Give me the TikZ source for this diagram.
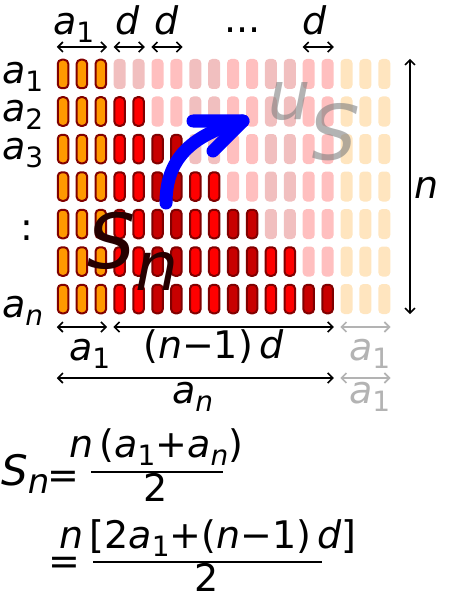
\documentclass[tikz,border=0pt]{standalone}
\usepackage{fontspec}
\setmainfont{DejaVu Sans}
\usepackage{tikz}
\usetikzlibrary{calc, positioning, arrows.meta}
\definecolor{barorange}{RGB}{255,153,0}
\definecolor{barred}{RGB}{255,0,0}
\definecolor{bardark}{RGB}{200,0,0}
\definecolor{barline}{RGB}{128,0,0}
\definecolor{sndark}{RGB}{38,0,0}
\definecolor{dimgrey}{RGB}{179,179,179}
\newcommand{\symsub}[2]{\textit{#1}\raisebox{-8pt}{\fontsize{28}{28}\selectfont #2}}

\begin{document}
\begin{tikzpicture}[
  x=1pt, y=-1pt,
  bar/.style={draw=barline, line width=2pt, rounded corners=4pt, minimum width=10.5pt, minimum height=28.5pt, inner sep=0pt},
  ghost/.style={draw=none, fill opacity=0.25, rounded corners=4pt, minimum width=12pt, minimum height=30pt, inner sep=0pt},
  dim/.style={line width=1.6pt, {Straight Barb[length=5pt,width=10pt]}-{Straight Barb[length=5pt,width=10pt]}},
  lbl/.style={anchor=base west, inner sep=0pt, font=\fontsize{38}{40}\selectfont},
  flow/.style={draw=blue, line width=13pt, line cap=round, line join=round},
  fracline/.style={line width=2pt}
]
\useasboundingbox (0,0) rectangle (449,599);

% bars: lit part is S_n, the faded part is its copy turned round
\foreach \r in {0,...,6}{
  \foreach \c in {0,...,17}{
    \pgfmathtruncatemacro{\lit}{\c<3+2*\r}
    \pgfmathtruncatemacro{\m}{\lit==1 ? \c : 17-\c}
    \pgfmathtruncatemacro{\k}{\m<3 ? 2 : mod(int((\m-3)/2),2)}
    \ifcase\k \def\barcol{barred}\or \def\barcol{bardark}\or \def\barcol{barorange}\fi
    \ifnum\lit=1
      \node[bar, fill=\barcol] (b\r-\c) at ({63+18.9*\c},{74+37.5*\r}) {};
    \else
      \node[ghost, fill=\barcol] (b\r-\c) at ({63+18.9*\c},{74+37.5*\r}) {};
    \fi
  }
}

% big labels
\node[lbl, font=\fontsize{76}{76}\selectfont, text=sndark] (sn) at (87,268) {\textit{S}\raisebox{-22pt}{\fontsize{68}{68}\selectfont\textit{n}}};
\node[lbl, font=\fontsize{76}{76}\selectfont, text=gray, text opacity=0.6, rotate=180] (snrot) at (359,105) {\textit{S}\raisebox{-22pt}{\fontsize{68}{68}\selectfont\textit{n}}};

% blue arrow
\coordinate (arrS) at (166,203);
\coordinate (arrT) at (243,121);
\coordinate (armU) at (193,121);
\coordinate (armL) at (213,151);
\draw[flow] (arrS) .. controls (166,160) and (190,135) .. (arrT);
\draw[flow] (armU) -- (arrT) -- (armL);

% dimensions
\coordinate (dimtop) at (0,47);
\coordinate (dimlow) at (0,327);
\coordinate (dimlow2) at (0,378);
\coordinate (nx) at (410,0);
\draw[dim] (b0-0.west |- dimtop) -- (b0-2.east |- dimtop);
\draw[dim] (b0-3.west |- dimtop) -- (b0-4.east |- dimtop);
\draw[dim] (b0-5.west |- dimtop) -- (b0-6.east |- dimtop);
\draw[dim] (b0-13.west |- dimtop) -- (b0-14.east |- dimtop);
\draw[dim] (b0-17.north -| nx) -- (b6-17.south -| nx);
\draw[dim] (b6-0.west |- dimlow) -- (b6-2.east |- dimlow);
\draw[dim] (b6-3.west |- dimlow) -- (b6-14.east |- dimlow);
\draw[dim, dimgrey] (b6-15.west |- dimlow) -- (b6-17.east |- dimlow);
\draw[dim] (b6-0.west |- dimlow2) -- (b6-14.east |- dimlow2);
\draw[dim, dimgrey] (b6-15.west |- dimlow2) -- (b6-17.east |- dimlow2);

\node[lbl] (ta1) at (53,35) {\symsub{a}{1}};
\node[lbl] (td1) at (115,35) {\textit{d}};
\node[lbl] (td2) at (154,35) {\textit{d}};
\node[lbl] (tdots) at (224,33) {...};
\node[lbl] (td3) at (302,35) {\textit{d}};

\node[lbl] (la1) at (2,84) {\symsub{a}{1}};
\node[lbl] (la2) at (2,121.5) {\symsub{a}{2}};
\node[lbl] (la3) at (2,159) {\symsub{a}{3}};
\node[lbl] (lvd) at (20,240) {:};
\node[lbl] (lan) at (2,317) {\symsub{a}{\textit{n}}};
\node[lbl] (rn) at (414,198) {\textit{n}};

\node[lbl] (ba1) at (69,360) {\symsub{a}{1}};
\node[lbl] (bnd) at (143,358) {(\textit{n}−1)\,\textit{d}};
\node[lbl, text=dimgrey] (bga1) at (349,360) {\symsub{a}{1}};
\node[lbl] (ban) at (172,403) {\symsub{a}{\textit{n}}};
\node[lbl, text=dimgrey] (bga2) at (349,403) {\symsub{a}{1}};

% sum formula
\node[lbl, font=\fontsize{42}{42}\selectfont] (fs) at (1,485) {\textit{S}\raisebox{-8pt}{\fontsize{34}{34}\selectfont\textit{n}}};
\node[lbl] (feq1) at (47,488) {=};
\node[lbl] (fnum1) at (69,457) {\textit{n}\,(\symsub{a}{1}+\symsub{a}{\textit{n}})};
\node[lbl, anchor=base] (fden1) at (156,501) {2};
\coordinate (f1a) at (91,472);
\coordinate (f1b) at (223,472);
\draw[fracline] (f1a) -- (f1b);
\node[lbl] (feq2) at (48,574) {=};
\node[lbl] (fnum2) at (59,548) {\textit{n}\,[2\symsub{a}{1}+(\textit{n}−1)\,\textit{d}]};
\node[lbl, anchor=base] (fden2) at (207,591) {2};
\coordinate (f2a) at (93,562);
\coordinate (f2b) at (322,562);
\draw[fracline] (f2a) -- (f2b);
\end{tikzpicture}
\end{document}
